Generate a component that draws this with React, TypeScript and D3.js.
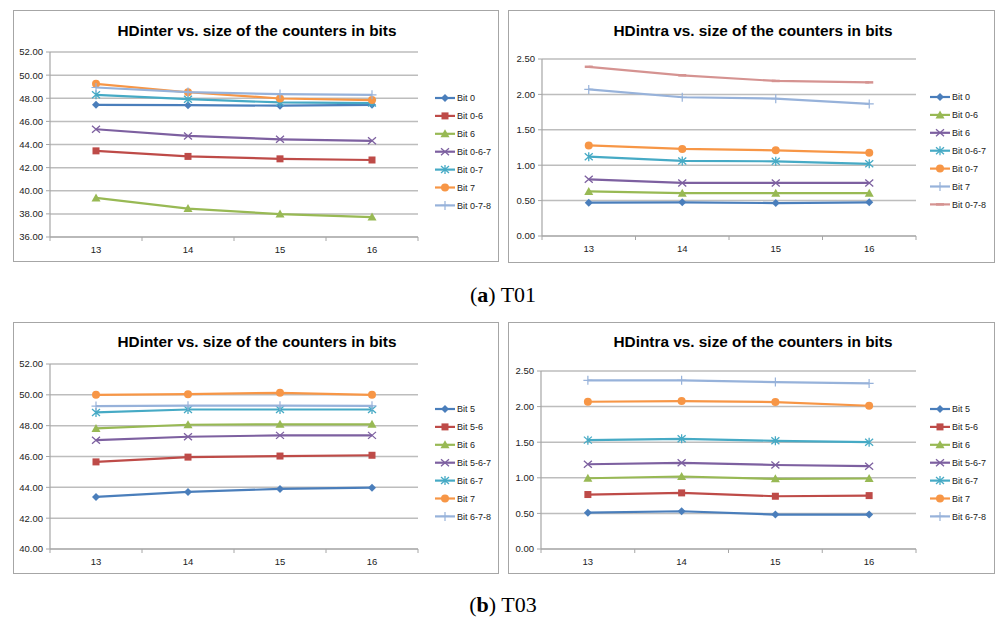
import React, { useEffect, useRef } from 'react';
import * as d3 from 'd3';

// counter sizes (x categories)
const sizes = ['13', '14', '15', '16'];

// T01 - HDinter
const t01InterNames = ['Bit 0', 'Bit 0-6', 'Bit 6', 'Bit 0-6-7', 'Bit 0-7', 'Bit 7', 'Bit 0-7-8'];
const t01InterValues = [
  [47.43, 47.4, 47.36, 47.43],
  [43.45, 42.97, 42.76, 42.66],
  [39.38, 38.46, 37.98, 37.72],
  [45.32, 44.74, 44.45, 44.32],
  [48.3, 47.92, 47.64, 47.58],
  [49.25, 48.52, 47.98, 47.84],
  [48.93, 48.53, 48.36, 48.3],
];

// T01 - HDintra
const t01IntraNames = ['Bit 0', 'Bit 0-6', 'Bit 6', 'Bit 0-6-7', 'Bit 0-7', 'Bit 7', 'Bit 0-7-8'];
const t01IntraValues = [
  [0.47, 0.475, 0.465, 0.475],
  [0.63, 0.605, 0.605, 0.605],
  [0.8, 0.75, 0.75, 0.75],
  [1.12, 1.06, 1.055, 1.02],
  [1.28, 1.23, 1.21, 1.175],
  [2.07, 1.96, 1.94, 1.865],
  [2.39, 2.27, 2.19, 2.17],
];

// T03 - HDinter
const t03InterNames = ['Bit 5', 'Bit 5-6', 'Bit 6', 'Bit 5-6-7', 'Bit 6-7', 'Bit 7', 'Bit 6-7-8'];
const t03InterValues = [
  [43.38, 43.7, 43.9, 43.98],
  [45.65, 45.96, 46.03, 46.08],
  [47.82, 48.06, 48.09, 48.09],
  [47.06, 47.28, 47.37, 47.37],
  [48.86, 49.05, 49.05, 49.05],
  [50.0, 50.04, 50.13, 50.0],
  [49.27, 49.3, 49.3, 49.29],
];

// T03 - HDintra
const t03IntraNames = ['Bit 5', 'Bit 5-6', 'Bit 6', 'Bit 5-6-7', 'Bit 6-7', 'Bit 7', 'Bit 6-7-8'];
const t03IntraValues = [
  [0.51, 0.53, 0.483, 0.483],
  [0.765, 0.788, 0.741, 0.75],
  [0.994, 1.018, 0.985, 0.99],
  [1.19, 1.21, 1.18, 1.163],
  [1.529, 1.548, 1.52, 1.5],
  [2.068, 2.078, 2.064, 2.012],
  [2.369, 2.369, 2.345, 2.326],
];

const C = {
  blue: '#4A7EBB',
  red: '#BE4B48',
  green: '#98B954',
  purple: '#7D60A0',
  cyan: '#46AAC5',
  orange: '#F79646',
  light: '#97B2DA',
  pink: '#D59391',
};

const interStyles = [
  { color: C.blue, marker: 'diamond' },
  { color: C.red, marker: 'square' },
  { color: C.green, marker: 'triangle' },
  { color: C.purple, marker: 'x' },
  { color: C.cyan, marker: 'star' },
  { color: C.orange, marker: 'circle' },
  { color: C.light, marker: 'plus' },
];
const t01IntraStyles = [
  { color: C.blue, marker: 'diamond' },
  { color: C.green, marker: 'triangle' },
  { color: C.purple, marker: 'x' },
  { color: C.cyan, marker: 'star' },
  { color: C.orange, marker: 'circle' },
  { color: C.light, marker: 'plus' },
  { color: C.pink, marker: 'dash' },
];

const FONT = '"Liberation Sans", Arial, sans-serif';

const drawMarker = (g, type, x, y, color) => {
  const s = 4;
  const m = g.append('g').attr('transform', `translate(${x},${y})`);
  if (type === 'diamond') {
    m.append('path').attr('d', `M0,${-s}L${s},0L0,${s}L${-s},0Z`).attr('fill', color);
  } else if (type === 'square') {
    m.append('rect').attr('x', -3.5).attr('y', -3.5).attr('width', 7).attr('height', 7).attr('fill', color);
  } else if (type === 'triangle') {
    m.append('path').attr('d', `M0,-4.5L4.5,3.5L-4.5,3.5Z`).attr('fill', color);
  } else if (type === 'circle') {
    m.append('circle').attr('r', 4).attr('fill', color);
  } else if (type === 'x') {
    m.append('path').attr('d', `M-4,-3.5L4,3.5M-4,3.5L4,-3.5`).attr('stroke', color).attr('stroke-width', 1.3);
  } else if (type === 'star') {
    m.append('path').attr('d', `M-4,-3.5L4,3.5M-4,3.5L4,-3.5M0,-4.5L0,4.5`).attr('stroke', color).attr('stroke-width', 1.3);
  } else if (type === 'plus') {
    m.append('path').attr('d', `M-4.5,0L4.5,0M0,-4.5L0,4.5`).attr('stroke', color).attr('stroke-width', 1.2);
  } else if (type === 'dash') {
    m.append('path').attr('d', `M-4,0L4,0`).attr('stroke', color).attr('stroke-width', 2.5);
  }
};

const panels = [
  {
    box: [13, 10, 498, 261], plot: [50, 52, 418, 237], titleX: 257, titleY: 36,
    title: 'HDinter vs. size of the counters in bits', domain: [36, 52], step: 2,
    legendX: 435, legendY: 98, names: t01InterNames, values: t01InterValues, styles: interStyles,
  },
  {
    box: [508, 10, 994, 262], plot: [542, 59, 916, 236], titleX: 753, titleY: 36,
    title: 'HDintra vs. size of the counters in bits', domain: [0, 2.5], step: 0.5,
    legendX: 930, legendY: 97, names: t01IntraNames, values: t01IntraValues, styles: t01IntraStyles,
  },
  {
    box: [13, 322, 498, 573], plot: [50, 364, 418, 549], titleX: 257, titleY: 347,
    title: 'HDinter vs. size of the counters in bits', domain: [40, 52], step: 2,
    legendX: 435, legendY: 409, names: t03InterNames, values: t03InterValues, styles: interStyles,
  },
  {
    box: [508, 322, 994, 573], plot: [541, 371, 916, 549], titleX: 753, titleY: 347,
    title: 'HDintra vs. size of the counters in bits', domain: [0, 2.5], step: 0.5,
    legendX: 930, legendY: 409, names: t03IntraNames, values: t03IntraValues, styles: interStyles,
  },
];

const App = () => {
  const ref = useRef(null);

  useEffect(() => {
    const svg = d3.select(ref.current);
    svg.selectAll('*').remove();
    svg.append('rect').attr('width', 995).attr('height', 618).attr('fill', '#fff');

    panels.forEach((p) => {
      const [bx0, by0, bx1, by1] = p.box;
      const [left, top, right, bottom] = p.plot;
      const g = svg.append('g');

      g.append('rect')
        .attr('x', bx0 + 0.5).attr('y', by0 + 0.5)
        .attr('width', bx1 - bx0).attr('height', by1 - by0)
        .attr('fill', '#fff').attr('stroke', '#A6A6A6').attr('stroke-width', 1);

      g.append('text')
        .attr('x', p.titleX).attr('y', p.titleY)
        .attr('text-anchor', 'middle')
        .attr('font-family', FONT).attr('font-weight', 'bold').attr('font-size', 15)
        .attr('textLength', 279).attr('lengthAdjust', 'spacingAndGlyphs')
        .attr('fill', '#000')
        .text(p.title);

      const x = d3.scalePoint().domain(sizes).range([left, right]).padding(0.5);
      const y = d3.scaleLinear().domain(p.domain).range([bottom, top]);
      const nTicks = Math.round((p.domain[1] - p.domain[0]) / p.step);
      const ticks = d3.range(nTicks + 1).map((i) => p.domain[0] + i * p.step);

      // gridlines
      g.selectAll('.grid').data(ticks).enter().append('line')
        .attr('x1', left).attr('x2', right)
        .attr('y1', (d) => y(d)).attr('y2', (d) => y(d))
        .attr('stroke', '#BDBDBD').attr('stroke-width', 1.5);

      // y axis
      g.append('line').attr('x1', left).attr('x2', left).attr('y1', top).attr('y2', bottom)
        .attr('stroke', '#A6A6A6').attr('stroke-width', 1.2);
      g.selectAll('.ytick').data(ticks).enter().append('line')
        .attr('x1', left - 4).attr('x2', left)
        .attr('y1', (d) => y(d)).attr('y2', (d) => y(d))
        .attr('stroke', '#A6A6A6');
      g.selectAll('.ylab').data(ticks).enter().append('text')
        .attr('x', left - 7).attr('y', (d) => y(d) + 3.4)
        .attr('text-anchor', 'end')
        .attr('font-family', FONT).attr('font-size', 9.5)
        .attr('fill', '#222')
        .text((d) => d.toFixed(2));

      // x axis
      g.append('line').attr('x1', left).attr('x2', right).attr('y1', bottom).attr('y2', bottom)
        .attr('stroke', '#A6A6A6').attr('stroke-width', 1.2);
      const step = x.step();
      g.selectAll('.xtick').data(d3.range(sizes.length + 1)).enter().append('line')
        .attr('x1', (i) => left + i * step).attr('x2', (i) => left + i * step)
        .attr('y1', bottom).attr('y2', bottom + 4)
        .attr('stroke', '#A6A6A6');
      g.selectAll('.xlab').data(sizes).enter().append('text')
        .attr('x', (d) => x(d)).attr('y', bottom + 16)
        .attr('text-anchor', 'middle')
        .attr('font-family', FONT).attr('font-size', 9.5)
        .attr('fill', '#222')
        .text((d) => d);

      // series
      const line = d3.line().x((d, i) => x(sizes[i])).y((d) => y(d));
      p.values.forEach((vals, si) => {
        const st = p.styles[si];
        g.append('path').datum(vals).attr('d', line)
          .attr('fill', 'none').attr('stroke', st.color).attr('stroke-width', 2.2)
          .attr('stroke-linejoin', 'round');
        vals.forEach((v, i) => drawMarker(g, st.marker, x(sizes[i]), y(v), st.color));
      });

      // legend
      p.names.forEach((name, i) => {
        const st = p.styles[i];
        const ly = p.legendY + i * 17.9;
        g.append('line').attr('x1', p.legendX).attr('x2', p.legendX + 20)
          .attr('y1', ly).attr('y2', ly)
          .attr('stroke', st.color).attr('stroke-width', 2.2);
        drawMarker(g, st.marker, p.legendX + 10, ly, st.color);
        g.append('text')
          .attr('x', p.legendX + 22).attr('y', ly + 3.2)
          .attr('font-family', FONT).attr('font-size', 9)
          .attr('fill', '#222')
          .text(name);
      });
    });

    // sub-captions
    const captions = [
      { label: 'a', name: 'T01', y: 302 },
      { label: 'b', name: 'T03', y: 612 },
    ];
    captions.forEach((c) => {
      const t = svg.append('text')
        .attr('x', 503).attr('y', c.y)
        .attr('text-anchor', 'middle')
        .attr('font-family', '"Liberation Serif", "Times New Roman", serif')
        .attr('font-size', 22)
        .attr('fill', '#000');
      t.append('tspan').text('(');
      t.append('tspan').attr('font-weight', 'bold').text(c.label);
      t.append('tspan').text(`) ${c.name}`);
    });
  }, []);

  return (
    <svg
      ref={ref}
      width={995}
      height={618}
      style={{ position: 'absolute', left: 0, top: 0, display: 'block' }}
    />
  );
};

export default App;
